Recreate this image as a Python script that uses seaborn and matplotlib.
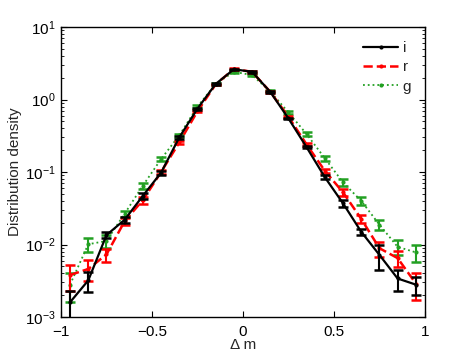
import numpy as np
import pandas as pd
import seaborn as sns
import matplotlib
matplotlib.use("Agg")
import matplotlib.pyplot as plt
from matplotlib.ticker import LogLocator, FixedLocator, NullFormatter

# ---- data ----
dm = [-0.95, -0.85, -0.75, -0.65, -0.55, -0.45, -0.35, -0.25, -0.15, -0.05,
      0.05, 0.15, 0.25, 0.35, 0.45, 0.55, 0.65, 0.75, 0.85, 0.95]

dens_i = [0.0016, 0.0032, 0.0135, 0.022, 0.047, 0.098, 0.30, 0.75, 1.64, 2.62,
          2.42, 1.28, 0.55, 0.22, 0.085, 0.037, 0.015, 0.0072, 0.0034, 0.0028]
err_i = [0.0007, 0.0010, 0.0012, 0.0023, 0.004, 0.006, 0.010, 0.02, 0.04, 0.06,
         0.06, 0.03, 0.015, 0.008, 0.006, 0.004, 0.0016, 0.0027, 0.0011, 0.0008]

dens_r = [0.0038, 0.0046, 0.0073, 0.021, 0.041, 0.100, 0.256, 0.69, 1.62, 2.64,
          2.42, 1.28, 0.58, 0.24, 0.104, 0.0525, 0.0226, 0.0089, 0.0065, 0.0029]
err_r = [0.0015, 0.0015, 0.0015, 0.0022, 0.0045, 0.007, 0.012, 0.02, 0.04, 0.06,
         0.06, 0.03, 0.02, 0.012, 0.008, 0.0058, 0.003, 0.0021, 0.0016, 0.00117]

dens_g = [0.0028, 0.0101, 0.0112, 0.0267, 0.065, 0.151, 0.32, 0.80, 1.64, 2.42,
          2.18, 1.30, 0.665, 0.334, 0.155, 0.072, 0.040, 0.0188, 0.0093, 0.0078]
err_g = [0.0012, 0.0021, 0.0023, 0.0025, 0.006, 0.010, 0.02, 0.03, 0.05, 0.07,
         0.07, 0.04, 0.03, 0.02, 0.012, 0.0077, 0.0053, 0.003, 0.0022, 0.002]

band_names = ["i", "r", "g"]

# ---- style ----
sns.set_style("ticks")
plt.rcParams["font.family"] = ["Liberation Sans", "DejaVu Sans"]
plt.rcParams["mathtext.fontset"] = "custom"
plt.rcParams["mathtext.rm"] = "Liberation Sans"
plt.rcParams["mathtext.it"] = "Liberation Sans:italic"
plt.rcParams["font.size"] = 11

fig = plt.figure(figsize=(4.69, 3.57), dpi=100)
ax = fig.add_axes([0.130, 0.112, 0.776, 0.812])

series = [
    (band_names[0], dens_i, err_i, "black", "-", 1.6, 4),
    (band_names[1], dens_r, err_r, "#ff0000", "--", 1.8, 3),
    (band_names[2], dens_g, err_g, "#22a022", ":", 1.3, 2),
]

for name, y, e, col, ls, lw, z in series:
    df = pd.DataFrame({"dm": dm, "dens": y})
    sns.lineplot(data=df, x="dm", y="dens", ax=ax, color=col, linestyle=ls,
                 linewidth=lw, marker="o", markersize=3, markeredgewidth=0,
                 label=name, zorder=z)
    ax.errorbar(dm, y, yerr=e, fmt="none", ecolor=col, elinewidth=1.5,
                capsize=3.5, capthick=1.8, zorder=z)

ax.set_yscale("log")
ax.set_xlim(-1, 1)
ax.set_ylim(1e-3, 1e1)
ax.xaxis.set_major_locator(FixedLocator([-1, -0.5, 0, 0.5, 1]))
ax.set_xticklabels(["\u22121", "\u22120.5", "0", "0.5", "1"])
ax.yaxis.set_major_locator(LogLocator(base=10, numticks=10))
ax.yaxis.set_minor_locator(LogLocator(base=10, subs=np.arange(2, 10), numticks=20))
ax.yaxis.set_minor_formatter(NullFormatter())

ax.tick_params(which="both", direction="in", top=True, right=True, colors="black",
               labelsize=11)
ax.tick_params(which="major", length=4, width=0.8)
ax.tick_params(which="minor", length=2, width=0.6)
ax.tick_params(axis="x", which="major", pad=6)
ax.tick_params(axis="y", which="major", pad=4)
for s in ax.spines.values():
    s.set_color("black")
    s.set_linewidth(1.0)

ax.set_xlabel("\u0394 m", fontsize=11, labelpad=-1)
ax.set_ylabel("Distribution density", fontsize=11, labelpad=2)

leg = ax.legend(loc="upper right", frameon=False, fontsize=11, handlelength=2.3,
                handletextpad=0.3, labelspacing=0.35, borderaxespad=0.5)

fig.savefig("out.png", dpi=100)
